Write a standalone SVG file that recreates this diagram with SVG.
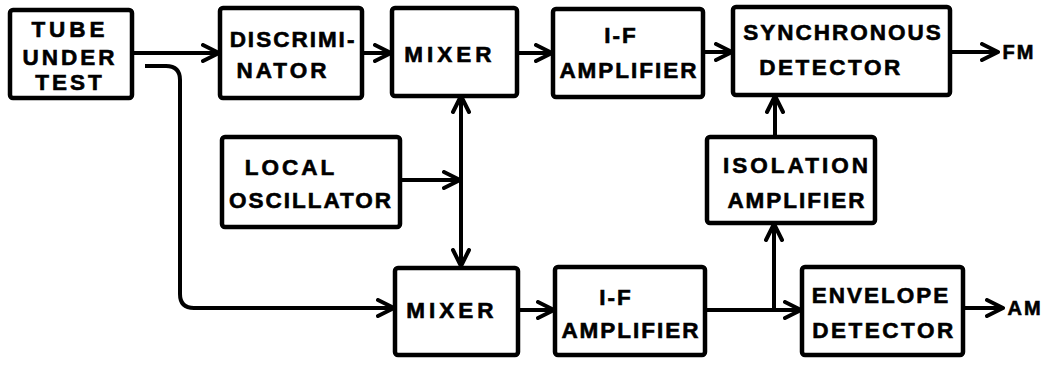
<svg xmlns="http://www.w3.org/2000/svg" width="1048" height="368" viewBox="0 0 1048 368">
<defs>
<style>
.box{fill:#fff;stroke:#000;stroke-width:4.5;}
.t{font-family:"Liberation Sans",Arial,sans-serif;font-weight:bold;font-size:22.5px;letter-spacing:2px;text-anchor:middle;fill:#000;stroke:#000;stroke-width:0.6;}
.c{fill:none;stroke:#000;stroke-width:4;stroke-linejoin:round;}
</style>
<marker id="ah" viewBox="0 0 20 20" refX="18" refY="10" markerWidth="20" markerHeight="20" markerUnits="userSpaceOnUse" orient="auto-start-reverse">
<path d="M2,2 L18,10 L2,18" fill="none" stroke="#000" stroke-width="4" stroke-linecap="round" stroke-linejoin="round"/>
</marker>
</defs>
<rect width="1048" height="368" fill="#fff"/>
<g id="connectors">
<line class="c" x1="132" y1="53" x2="219" y2="53" marker-end="url(#ah)"/>
<line class="c" x1="362" y1="53" x2="391" y2="53" marker-end="url(#ah)"/>
<line class="c" x1="517" y1="53" x2="552" y2="53" marker-end="url(#ah)"/>
<line class="c" x1="703" y1="52" x2="732" y2="52" marker-end="url(#ah)"/>
<line class="c" x1="950" y1="52" x2="998" y2="52" marker-end="url(#ah)"/>
<path class="c" d="M145,66 H166 Q180,66 180,80 V294 Q180,308 194,308 H394" marker-end="url(#ah)"/>
<line class="c" x1="461" y1="96" x2="461" y2="266" marker-start="url(#ah)" marker-end="url(#ah)"/>
<line class="c" x1="400" y1="180" x2="460" y2="180" marker-end="url(#ah)"/>
<line class="c" x1="518" y1="310" x2="554" y2="310" marker-end="url(#ah)"/>
<line class="c" x1="705" y1="310" x2="801" y2="310" marker-end="url(#ah)"/>
<line class="c" x1="774" y1="310" x2="774" y2="224" marker-end="url(#ah)"/>
<line class="c" x1="775" y1="137" x2="775" y2="96" marker-end="url(#ah)"/>
<line class="c" x1="963" y1="308" x2="1003" y2="308" marker-end="url(#ah)"/>
</g>
<g id="tube">
<rect class="box" x="10" y="10" width="122" height="88" rx="3"/>
<text class="t" x="70" y="37" style="letter-spacing:4px">TUBE</text>
<text class="t" x="70" y="65" style="letter-spacing:3px">UNDER</text>
<text class="t" x="70" y="90" style="letter-spacing:3px">TEST</text>
</g>
<g id="discriminator">
<rect class="box" x="220" y="8" width="142" height="90" rx="3"/>
<text class="t" x="293" y="47">DISCRIMI-</text>
<text class="t" x="283" y="78" style="letter-spacing:3px">NATOR</text>
</g>
<g id="mixer1">
<rect class="box" x="392" y="8" width="125" height="88" rx="3"/>
<text class="t" x="450" y="62" style="letter-spacing:4px">MIXER</text>
</g>
<g id="if1">
<rect class="box" x="553" y="9" width="150" height="88" rx="3"/>
<text class="t" x="621" y="43">I-F</text>
<text class="t" x="629" y="78">AMPLIFIER</text>
</g>
<g id="sync">
<rect class="box" x="733" y="7" width="217" height="88" rx="3"/>
<text class="t" x="843" y="40">SYNCHRONOUS</text>
<text class="t" x="831" y="75" style="letter-spacing:2.5px">DETECTOR</text>
</g>
<g id="fm">
<text class="t" x="1019" y="59" style="font-size:20px;letter-spacing:2px">FM</text>
</g>
<g id="lo">
<rect class="box" x="222" y="137" width="178" height="90" rx="3"/>
<text class="t" x="291" y="175" style="letter-spacing:3px">LOCAL</text>
<text class="t" x="311" y="208">OSCILLATOR</text>
</g>
<g id="iso">
<rect class="box" x="707" y="137" width="168" height="86" rx="3"/>
<text class="t" x="797" y="173" style="letter-spacing:3px">ISOLATION</text>
<text class="t" x="797" y="208">AMPLIFIER</text>
</g>
<g id="mixer2">
<rect class="box" x="395" y="268" width="123" height="87" rx="3"/>
<text class="t" x="452" y="318" style="letter-spacing:4px">MIXER</text>
</g>
<g id="if2">
<rect class="box" x="555" y="267" width="150" height="88" rx="3"/>
<text class="t" x="616" y="305">I-F</text>
<text class="t" x="631" y="338">AMPLIFIER</text>
</g>
<g id="envelope">
<rect class="box" x="802" y="267" width="161" height="88" rx="3"/>
<text class="t" x="881" y="303">ENVELOPE</text>
<text class="t" x="884" y="338" style="letter-spacing:2.5px">DETECTOR</text>
</g>
<g id="am">
<text class="t" x="1025" y="315" style="font-size:20px;letter-spacing:2px">AM</text>
</g>
</svg>
